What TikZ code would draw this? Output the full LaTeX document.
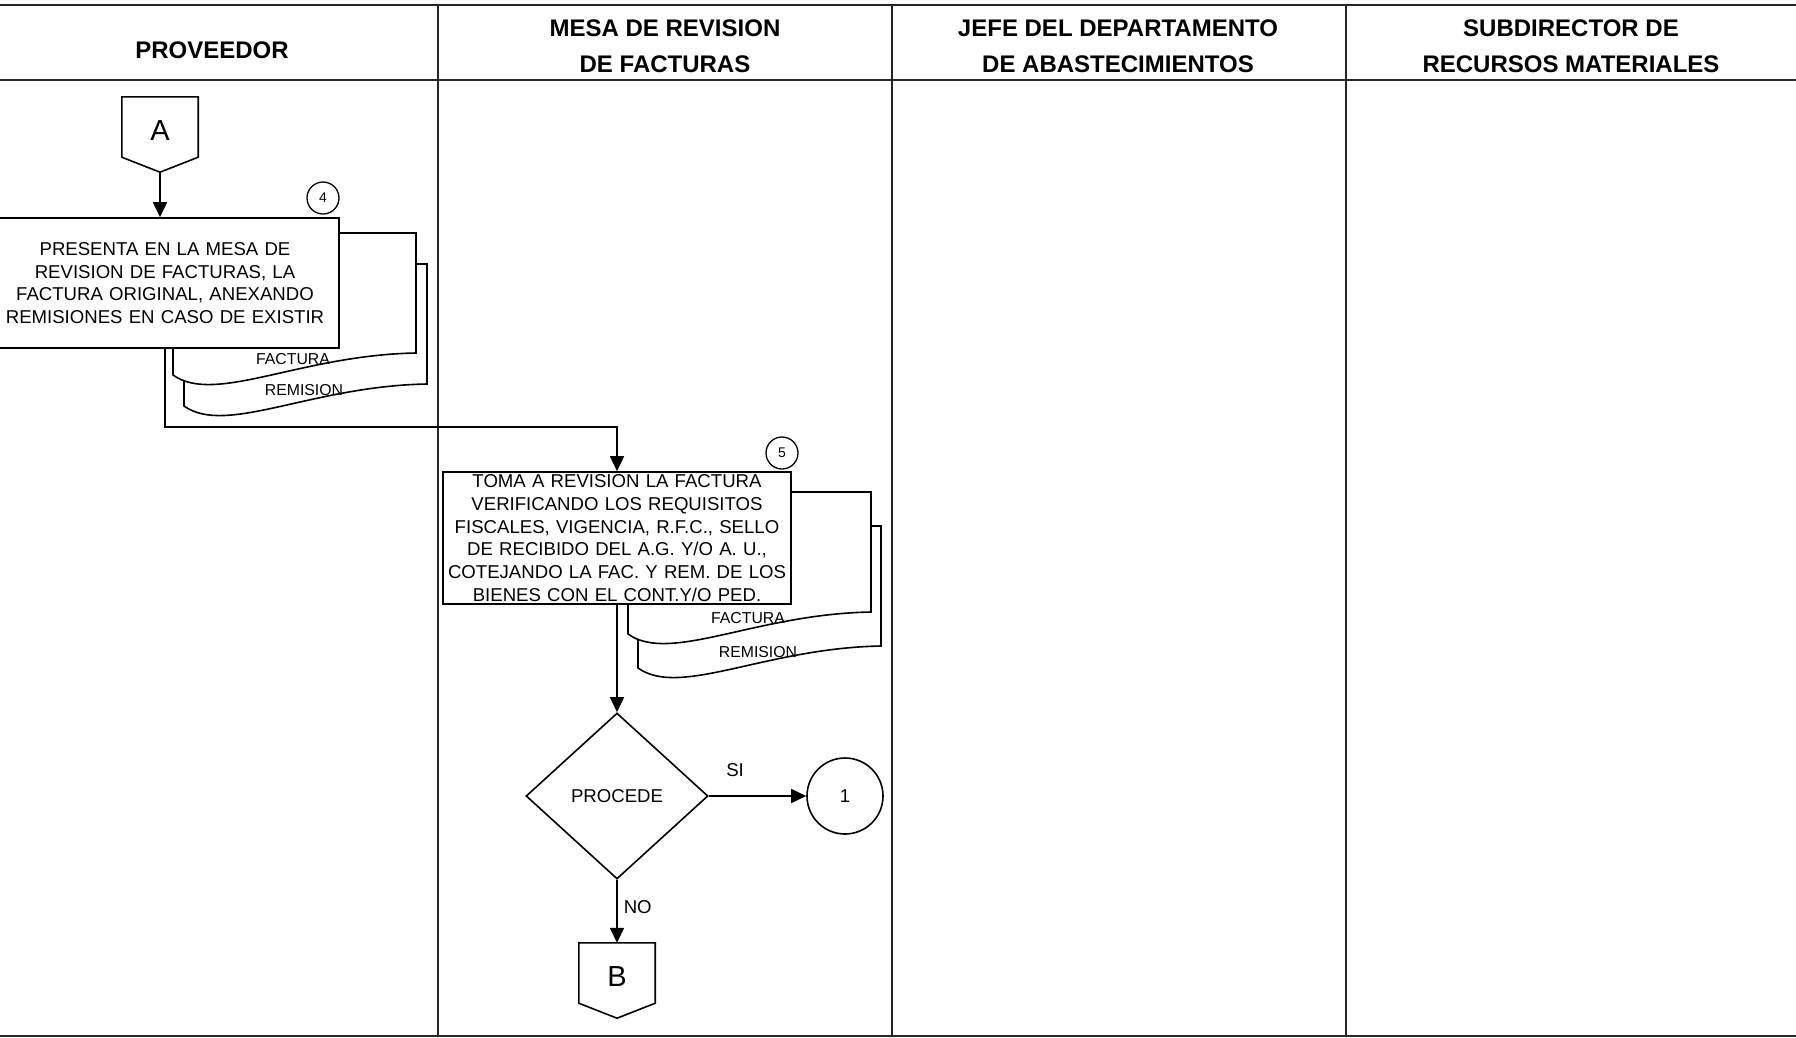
\documentclass[tikz,border=0pt]{standalone}
\usepackage{fontspec}
\setmainfont{Liberation Sans}
\usetikzlibrary{shapes.geometric,arrows.meta,positioning}

\tikzset{
  marco/.style={line width=2.6pt, black!85},
  linea/.style={line width=1.6pt},
  flecha/.style={linea, -{Triangle[length=15pt,width=14pt]}},
  encabezado/.style={align=center, font=\bfseries\fontsize{24}{35.5}\selectfont},
  proceso/.style={draw, linea, fill=white, minimum width=348pt, text width=344pt,
    align=center, inner sep=0pt, font=\fontsize{18.6}{22.8}\selectfont},
  decision/.style={draw, linea, diamond, minimum width=182pt, minimum height=166pt,
    inner sep=0pt, font=\fontsize{18.6}{22}\selectfont},
  circulo/.style={draw, linea, circle, minimum size=76pt, inner sep=0pt,
    font=\fontsize{18.6}{22}\selectfont},
  numero/.style={draw, line width=1.3pt, circle, minimum size=32pt, inner sep=0pt,
    font=\fontsize{14}{16}\selectfont},
  conector/.style={minimum width=76pt, minimum height=60pt, inner sep=0pt,
    text height=26pt, text depth=0pt, font=\fontsize{29}{30}\selectfont},
  etiqueta/.style={inner sep=0pt, font=\fontsize{15.8}{18}\selectfont},
  rotulo/.style={inner sep=0pt, font=\fontsize{18.6}{22}\selectfont},
  pics/documento/.style={code={
    \draw[linea, fill=white] (243,120) -- (243,0) -- (0,0) -- (0,142)
      .. controls (42,172) and (127,122) .. (243,120) -- cycle;
    \node[etiqueta] (-lbl) at (120,126) {#1};
  }}
}

\begin{document}
\begin{tikzpicture}[x=1pt, y=-1pt]
\useasboundingbox (0,0) rectangle (1796,1037);

% frame and lanes
\draw[marco] (0,5) -- (1796,5);
\draw[marco] (0,80) -- (1796,80);
\draw[marco] (0,1036) -- (1796,1036);
\foreach \x in {438,892,1346}
  \draw[marco] (\x,5) -- (\x,1036);

% headers
\node[encabezado] (h1) at (212,50) {PROVEEDOR};
\node[encabezado] (h2) at (665,46) {MESA DE REVISION\\DE FACTURAS};
\node[encabezado] (h3) at (1118,46) {JEFE DEL DEPARTAMENTO\\DE ABASTECIMIENTOS};
\node[encabezado] (h4) at (1571,46) {SUBDIRECTOR DE\\RECURSOS MATERIALES};

% connector A
\node[conector] (A) at (160,127) {A};
\draw[linea] (A.north west) -- (A.north east) -- (A.south east)
  -- ([yshift=-15pt]A.south) -- (A.south west) -- cycle;
\coordinate (A-tip) at ([yshift=-15pt]A.south);

% step 4
\pic (rem1) at (184,264) {documento=REMISION};
\pic (fac1) at (173,233) {documento=FACTURA};
\node[proceso, minimum height=130pt] (box1) at (165,283)
  {PRESENTA EN LA MESA DE\\REVISION DE FACTURAS, LA\\FACTURA ORIGINAL, ANEXANDO\\REMISIONES EN CASO DE EXISTIR};
\node[numero] (n4) at (323,198) {4};

% step 5
\pic (rem2) at (638,526) {documento=REMISION};
\pic (fac2) at (628,492) {documento=FACTURA};
\node[proceso, minimum height=132pt] (box2) at (617,538)
  {TOMA A REVISION LA FACTURA\\VERIFICANDO LOS REQUISITOS\\FISCALES, VIGENCIA, R.F.C., SELLO\\DE RECIBIDO DEL A.G. Y/O A. U.,\\COTEJANDO LA FAC. Y REM. DE LOS\\BIENES CON EL CONT.Y/O PED.};
\node[numero] (n5) at (782,453) {5};

% decision
\node[decision] (proc) at (617,796) {PROCEDE};
\node[circulo] (c1) at (845,796) {1};

% connector B
\node[conector] (B) at (617,973) {B};
\draw[linea] (B.north west) -- (B.north east) -- (B.south east)
  -- ([yshift=-15pt]B.south) -- (B.south west) -- cycle;

% arrows
\draw[flecha] (A-tip) -- (A-tip |- box1.north);
\draw[flecha] (box1.south) |- ([yshift=44pt]box2.north) -- (box2.north);
\draw[flecha] (box2.south) -- (proc.north);
\draw[flecha] (proc.east) -- node[rotulo, pos=0.27, above=19pt] (si) {SI} (c1.west);
\draw[flecha] (proc.south) -- node[rotulo, pos=0.44, right=6pt] (no) {NO} (B.north);

\end{tikzpicture}
\end{document}
